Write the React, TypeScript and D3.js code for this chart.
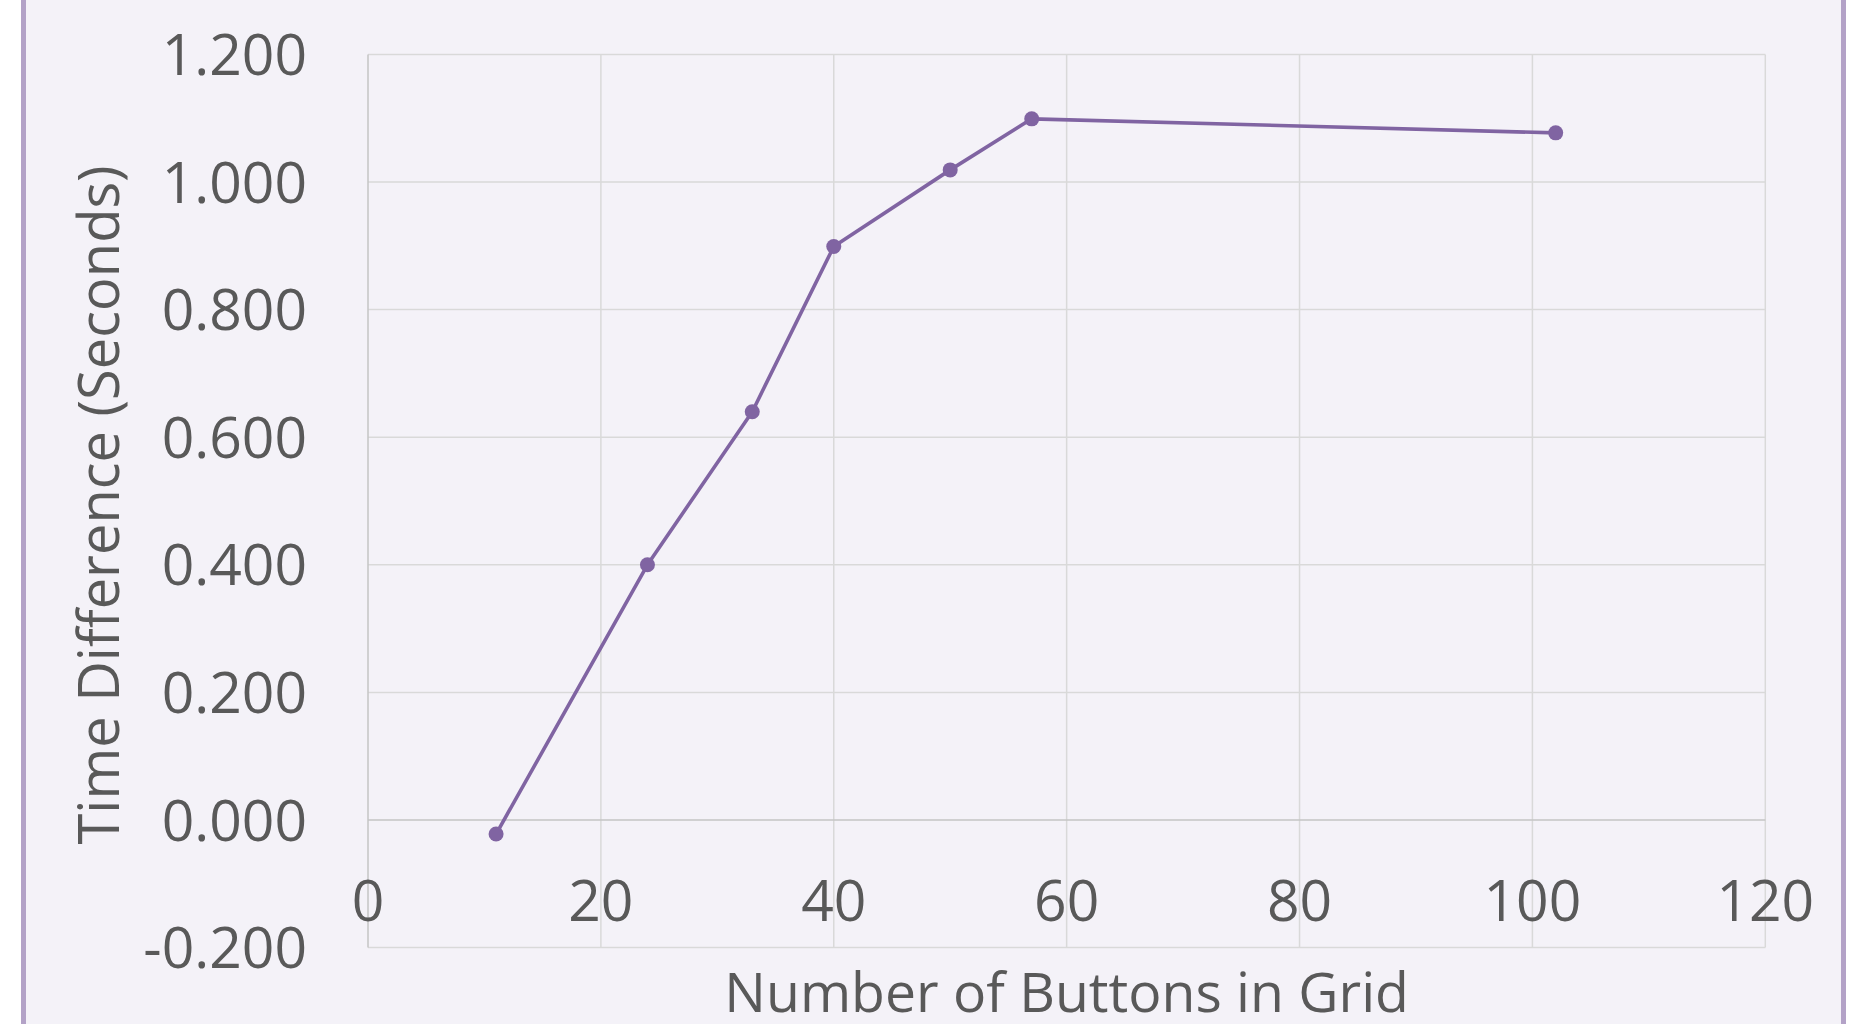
import React from 'react';
import { useEffect, useRef } from 'react';
import * as d3 from "d3";

// button counts and measured time differences
const buttons = [11, 24, 33, 40, 50, 57, 102];
const timeDiff = [-0.022, 0.400, 0.640, 0.899, 1.019, 1.099, 1.077];
const xTicks = [0, 20, 40, 60, 80, 100, 120];
const yTicks = [-0.2, 0, 0.2, 0.4, 0.6, 0.8, 1.0, 1.2];
const xLabel = "Number of Buttons in Grid";
const yLabel = "Time Difference (Seconds)";

function LineChart() {
    const svgNode = useRef(null);
    const width = 1860;
    const height = 1024;
    const margin = ({ top: 54.4, right: 94.7, bottom: 76.4, left: 368 });
    const font = "'Open Sans', 'Noto Sans', sans-serif";
    const textColor = "#595959";
    const lineColor = "#8064a2";

    useEffect(() => {
        const svg = d3.select(svgNode.current);
        svg.selectAll("*").remove();

        //outer frame
        svg.append("rect")
            .attr("x", 23.5).attr("y", -10)
            .attr("width", 1820).attr("height", height + 20)
            .attr("fill", "#f4f2f8")
            .attr("stroke", "#b3a2c7")
            .attr("stroke-width", 5);

        const x = d3.scaleLinear()
            .domain([0, 120])
            .range([margin.left, width - margin.right]);
        const y = d3.scaleLinear()
            .domain([-0.2, 1.2])
            .range([height - margin.bottom, margin.top]);

        //gridlines
        const grid = svg.append("g");
        grid.selectAll("line.v")
            .data(xTicks.filter(d => d !== 0))
            .join("line")
            .attr("x1", d => x(d)).attr("x2", d => x(d))
            .attr("y1", y(1.2)).attr("y2", y(-0.2))
            .attr("stroke", "#d9d9d9").attr("stroke-width", 1.5);
        grid.selectAll("line.h")
            .data(yTicks.filter(d => d !== 0))
            .join("line")
            .attr("x1", x(0)).attr("x2", x(120))
            .attr("y1", d => y(d)).attr("y2", d => y(d))
            .attr("stroke", "#d9d9d9").attr("stroke-width", 1.5);

        //axis lines crossing at zero
        svg.append("line")
            .attr("x1", x(0)).attr("x2", x(120))
            .attr("y1", y(0)).attr("y2", y(0))
            .attr("stroke", "#c4c4c4").attr("stroke-width", 1.5);
        svg.append("line")
            .attr("x1", x(0)).attr("x2", x(0))
            .attr("y1", y(1.2)).attr("y2", y(-0.2))
            .attr("stroke", "#c4c4c4").attr("stroke-width", 1.5);

        //tick labels
        svg.append("g").selectAll("text")
            .data(yTicks)
            .join("text")
            .attr("x", 307)
            .attr("y", d => y(d))
            .attr("dy", "0.36em")
            .attr("text-anchor", "end")
            .attr("font-family", font)
            .attr("font-size", 57)
            .attr("fill", textColor)
            .text(d => d3.format(".3f")(d).replace("−", "-"));
        svg.append("g").selectAll("text")
            .data(xTicks)
            .join("text")
            .attr("x", d => x(d))
            .attr("y", 921)
            .attr("text-anchor", "middle")
            .attr("font-family", font)
            .attr("font-size", 57)
            .attr("fill", textColor)
            .text(d => d);

        //axis titles
        svg.append("text")
            .attr("x", (x(0) + x(120)) / 2)
            .attr("y", 1012)
            .attr("text-anchor", "middle")
            .attr("font-family", font)
            .attr("font-size", 55.3)
            .attr("fill", textColor)
            .text(xLabel);
        svg.append("text")
            .attr("transform", `translate(119,${(y(1.2) + y(-0.2)) / 2 + 4}) rotate(-90)`)
            .attr("text-anchor", "middle")
            .attr("font-family", font)
            .attr("font-size", 56)
            .attr("fill", textColor)
            .text(yLabel);

        //series
        const pts = buttons.map((b, i) => [b, timeDiff[i]]);
        const line = d3.line()
            .x(d => x(d[0]))
            .y(d => y(d[1]));
        svg.append("path")
            .datum(pts)
            .attr("d", line)
            .attr("fill", "none")
            .attr("stroke", lineColor)
            .attr("stroke-width", 3.6)
            .attr("stroke-linejoin", "round");
        svg.append("g").selectAll("circle")
            .data(pts)
            .join("circle")
            .attr("cx", d => x(d[0]))
            .attr("cy", d => y(d[1]))
            .attr("r", 7.5)
            .attr("fill", lineColor);
    }, []);

    return (
        <svg ref={svgNode} width={width} height={height}
            style={{ position: "absolute", left: 0, top: 0, background: "#fff" }}></svg>
    );
}

export default function App() {
    return <LineChart />;
}
